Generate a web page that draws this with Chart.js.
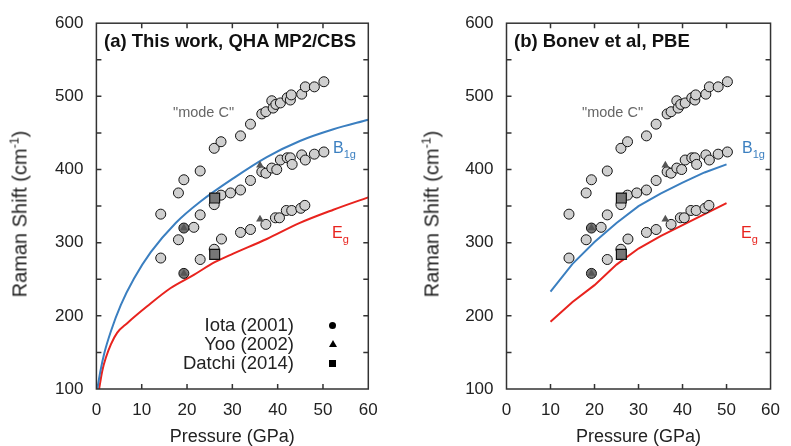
<!DOCTYPE html>
<html>
<head>
<meta charset="utf-8">
<script src="https://cdn.jsdelivr.net/npm/chart.js@4/dist/chart.umd.min.js"></script>
<style>
  body { margin: 0; background: #fff; width: 791px; height: 446px; position: relative; overflow: hidden;
         font-family: "Liberation Sans", Arial, sans-serif; color: #222; }
  canvas { position: absolute; top: 0; }
  .t { position: absolute; white-space: nowrap; line-height: 1; }
  .panel { font-weight: bold; font-size: 18.5px; color: #111; top: 32px; }
  .mode { font-size: 14.5px; color: #666; top: 105px; }
  .b1g { font-size: 16px; color: #3b7fc0; top: 140px; }
  .eg { font-size: 16px; color: #e8231e; top: 225px; }
  sub { font-size: 11px; vertical-align: -5px; }
  .leg { font-size: 18.5px; right: 497px; }
  .ytitle { font-size: 20px; transform-origin: 0 0; transform: rotate(-90deg) translate(-50%, -50%); }
  .ytitle sup { font-size: 12.5px; vertical-align: 8px; }
  .mk { position: absolute; background: #000; }
</style>
</head>
<body>
<canvas id="left" width="400" height="446" style="left:0;width:400px;height:446px"></canvas>
<canvas id="right" width="381" height="446" style="left:410px;width:381px;height:446px"></canvas>

<div class="t panel" style="left:104px">(a) This work, QHA MP2/CBS</div>
<div class="t panel" style="left:514px">(b) Bonev et al, PBE</div>
<div class="t mode" style="left:173px">"mode C"</div>
<div class="t mode" style="left:582px">"mode C"</div>
<div class="t b1g" style="left:333px">B<sub>1g</sub></div>
<div class="t b1g" style="left:742px">B<sub>1g</sub></div>
<div class="t eg" style="left:332px">E<sub>g</sub></div>
<div class="t eg" style="left:741px">E<sub>g</sub></div>

<div class="t leg" style="top:316px">Iota (2001)</div>
<div class="t leg" style="top:335px">Yoo (2002)</div>
<div class="t leg" style="top:354px">Datchi (2014)</div>
<div class="mk" style="left:329px;top:322px;width:7px;height:7px;border-radius:50%"></div>
<div class="mk" style="left:329px;top:340px;width:0;height:0;background:none;border-left:4px solid transparent;border-right:4px solid transparent;border-bottom:7px solid #000"></div>
<div class="mk" style="left:329px;top:360px;width:7px;height:7px"></div>

<div class="t ytitle" style="left:19px;top:214px">Raman Shift (cm<sup>-1</sup>)</div>
<div class="t ytitle" style="left:431px;top:214px">Raman Shift (cm<sup>-1</sup>)</div>

<script>
// experimental data (pressure in GPa, shift in cm-1)
const modeCP = [14.2, 18.1, 19.3, 22.9, 26.0, 27.5, 31.8, 34.0, 36.5, 37.4, 38.7, 39.0, 39.6, 40.6, 42.1, 42.8, 43.0, 45.3, 46.1, 48.1, 50.2];
const modeCV = [339, 368, 386, 398, 429, 438, 446, 462, 476, 479, 494, 484, 489, 491, 498, 495, 502, 503, 513, 513, 520];
const b1gP = [18.1, 19.3, 21.5, 22.9, 26.0, 27.5, 29.6, 31.8, 34.0, 36.5, 37.4, 38.7, 39.8, 40.6, 42.1, 42.8, 43.2, 45.3, 46.1, 48.1, 50.2];
const b1gV = [304, 320, 321, 338, 352, 365, 368, 372, 385, 397, 395, 402, 400, 413, 416, 416, 407, 420, 413, 421, 424];
const egP = [14.2, 19.3, 22.9, 26.0, 27.6, 31.8, 34.0, 37.4, 39.5, 40.4, 41.9, 43.1, 45.1, 46.0];
const egV = [279, 258, 277, 291, 305, 314, 318, 325, 334, 334, 344, 344, 347, 351];
const yooP = [19.3, 19.3, 36.1, 36.1];
const yooV = [320, 258, 406, 332];
const datchiP = [26.1, 26.1];
const datchiV = [361, 284];

// theory curves
const qhaB1gP = [0.2, 0.9, 1.7, 3.2, 5.4, 8.3, 12, 17.5, 22.9, 30.2, 37.6, 44.9, 52.3, 60];
const qhaB1gV = [100, 125, 148, 179, 215, 251, 287, 327, 356, 388, 417, 439, 455, 468];
const qhaEgP = [0.6, 1.3, 2.1, 3.2, 4.6, 6.8, 11.2, 16.4, 21.5, 26, 30.2, 37.6, 44.9, 52.3, 60];
const qhaEgV = [100, 125, 143, 161, 177, 190, 213, 238, 256, 273, 285, 305, 327, 345, 362];
const bonevP = [10, 15, 20, 25, 30, 35, 40, 45, 50];
const bonevB1gV = [233, 271, 301, 327, 350, 367, 382, 396, 407];
const bonevEgV = [192, 219, 242, 270, 292, 309, 324, 339, 354];

const xMinor = [10, 20, 30, 40, 50];
const yMinor = [150, 200, 250, 300, 350, 400, 450, 500, 550];

const pts = (xs, ys) => xs.map((x, i) => ({ x, y: ys[i] }));
const iota = pts(modeCP, modeCV).concat(pts(b1gP, b1gV), pts(egP, egV));
const yoo = pts(yooP, yooV);
const datchi = pts(datchiP, datchiV);
const underYoo = p => yoo.some(q => q.x === p.x && q.y === p.y);

const frame = {
    id: 'frame',
    afterDraw(chart) {
        const { ctx, chartArea: a, scales: { x, y } } = chart;
        ctx.save();
        ctx.strokeStyle = '#333';
        ctx.lineWidth = 1.5;
        ctx.strokeRect(a.left, a.top, a.right - a.left, a.bottom - a.top);
        ctx.beginPath();
        xMinor.forEach(v => {
            const px = x.getPixelForValue(v);
            ctx.moveTo(px, a.bottom); ctx.lineTo(px, a.bottom - 5);
            ctx.moveTo(px, a.top); ctx.lineTo(px, a.top + 5);
        });
        yMinor.forEach(v => {
            const py = y.getPixelForValue(v);
            ctx.moveTo(a.left, py); ctx.lineTo(a.left + 5, py);
            ctx.moveTo(a.right, py); ctx.lineTo(a.right - 5, py);
        });
        ctx.stroke();
        ctx.restore();
    }
};

function makeChart(id, b1g, eg, yW, padRight, tension) {
    const tickFont = { family: 'Liberation Sans', size: 17 };
    return new Chart(document.getElementById(id), {
        type: 'scatter',
        data: {
            datasets: [
                { data: datchi, pointStyle: 'rect', pointRadius: 7, backgroundColor: '#777', borderColor: '#111', borderWidth: 1.2, order: 0 },
                { data: yoo, pointStyle: 'triangle', pointRadius: 4.5, backgroundColor: '#555', borderColor: '#555', borderWidth: 0, order: 0 },
                { data: iota, pointRadius: 5, borderColor: '#111', borderWidth: 1,
                  backgroundColor: c => (c.raw && underYoo(c.raw)) ? '#777' : '#cfcfcf', order: 1 },
                { data: b1g, showLine: true, pointRadius: 0, borderColor: '#3b7fc0', borderWidth: 2,
                  tension: tension, cubicInterpolationMode: tension ? 'monotone' : 'default', order: 2 },
                { data: eg, showLine: true, pointRadius: 0, borderColor: '#e8231e', borderWidth: 2,
                  tension: tension, cubicInterpolationMode: tension ? 'monotone' : 'default', order: 2 }
            ]
        },
        options: {
            responsive: false,
            animation: false,
            layout: { padding: { top: 17.3, right: padRight, left: 0, bottom: 0 } },
            plugins: { legend: { display: false }, tooltip: { enabled: false } },
            scales: {
                x: {
                    min: 0, max: 60,
                    grid: { display: false, drawTicks: false },
                    border: { display: false },
                    ticks: { stepSize: 10, color: '#222', font: tickFont, padding: 11, maxRotation: 0 },
                    title: { display: true, text: 'Pressure (GPa)', color: '#222',
                             font: { family: 'Liberation Sans', size: 18, lineHeight: 1 }, padding: { top: 0, bottom: 0 } },
                    afterFit: s => { s.height = 57; }
                },
                y: {
                    min: 100, max: 600,
                    grid: { display: false, drawTicks: false },
                    border: { display: false },
                    ticks: { stepSize: 100, color: '#222', font: tickFont, padding: 13 },
                    afterFit: s => { s.width = yW; }
                }
            }
        },
        plugins: [frame]
    });
}

makeChart('left', pts(qhaB1gP, qhaB1gV), pts(qhaEgP, qhaEgV), 96.4, 31.7, 0.4);
makeChart('right', pts(bonevP, bonevB1gV), pts(bonevP, bonevEgV), 96.5, 13.3, 0);
</script>
</body>
</html>
